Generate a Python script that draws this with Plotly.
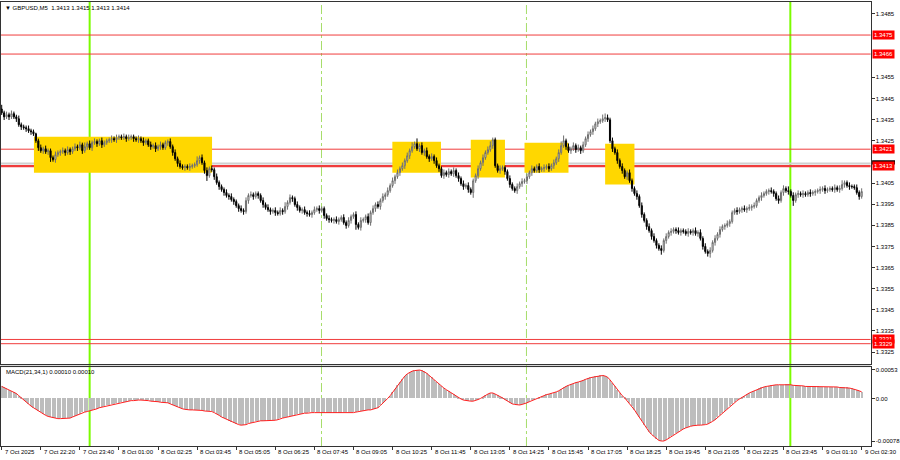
import plotly.graph_objects as go

# ---------------- data ----------------
symbol_header = "\u25bc GBPUSD,M5  1.3413 1.3415 1.3413 1.3414"
macd_header = "MACD(21,34,1) 0.00010 0.00010"

time_labels = ["7 Oct 2025", "7 Oct 22:20", "7 Oct 23:40", "8 Oct 01:00", "8 Oct 02:25",
               "8 Oct 03:45", "8 Oct 05:05", "8 Oct 06:25", "8 Oct 07:45", "8 Oct 09:05",
               "8 Oct 10:25", "8 Oct 11:45", "8 Oct 13:05", "8 Oct 14:25", "8 Oct 15:45",
               "8 Oct 17:05", "8 Oct 18:25", "8 Oct 19:45", "8 Oct 21:05", "8 Oct 22:25",
               "8 Oct 23:45", "9 Oct 01:10", "9 Oct 02:30"]
bars_per_label = 16

# price scale labels that are visible (others are covered by level tags)
price_tick_labels = ["1.3325", "1.3335", "1.3345", "1.3355", "1.3365", "1.3375", "1.3385",
                     "1.3395", "1.3405", "1.3425", "1.3435", "1.3445", "1.3455",
                     "1.3485"]
macd_tick_vals = [0.00053, 0.0, -0.00078]
macd_tick_labels = ["0.00053", "0.00", "-0.00078"]

# closes in pips above 1.3300 (M5 bars)
close_pips = [
    138.2, 136.3, 137.3, 136.3, 137.8, 136.3, 135.4, 132.6, 131.6, 131.2,
    130.7, 129.7, 129.3, 128.3, 125.0, 121.7, 120.3, 121.2, 119.8, 120.3,
    117.0, 116.1, 118.4, 119.4, 119.8, 120.3, 119.4, 120.8, 119.8, 121.2,
    122.2, 121.7, 123.1, 120.3, 122.2, 123.6, 121.7, 124.1, 124.6, 123.6,
    125.0, 123.1, 124.1, 125.0, 125.5, 126.0, 125.5, 126.4, 126.9, 126.4,
    126.9, 126.0, 126.4, 126.9, 126.0, 125.5, 126.0, 125.0, 124.1, 125.0,
    123.1, 122.2, 122.7, 121.2, 122.2, 123.1, 121.7, 124.1, 124.6, 122.2,
    119.4, 116.5, 114.2, 112.8, 112.3, 112.8, 112.3, 112.8, 113.2, 113.7,
    115.6, 117.0, 114.6, 110.9, 108.5, 111.8, 111.3, 108.0, 105.2, 103.3,
    101.9, 100.5, 99.1, 98.6, 97.2, 96.2, 94.3, 92.9, 92.0, 91.5,
    96.7, 99.1, 99.5, 98.6, 100.0, 99.1, 96.7, 94.8, 93.4, 92.4,
    91.5, 92.0, 91.0, 90.6, 92.0, 91.5, 93.9, 95.8, 98.1, 97.6,
    94.8, 93.4, 92.0, 92.4, 91.0, 90.6, 90.1, 91.0, 92.4, 92.9,
    92.0, 92.9, 89.6, 88.2, 87.7, 87.3, 87.7, 86.8, 87.7, 88.7,
    86.3, 84.9, 87.3, 89.1, 90.1, 85.4, 84.0, 87.3, 87.7, 89.1,
    86.3, 91.0, 92.9, 94.8, 93.9, 96.7, 98.6, 99.5, 101.4, 103.8,
    106.1, 108.0, 109.9, 111.8, 113.2, 115.6, 117.9, 120.3, 122.2, 123.6,
    121.2, 122.7, 119.4, 120.3, 117.5, 116.5, 117.5, 115.6, 113.2, 111.8,
    108.5, 109.9, 109.0, 110.4, 109.4, 110.9, 108.5, 107.1, 104.7, 103.3,
    103.8, 101.9, 100.5, 106.1, 108.5, 111.8, 114.6, 117.0, 119.4, 120.8,
    122.7, 125.5, 113.2, 110.9, 111.8, 112.3, 110.4, 107.1, 104.3, 102.4,
    101.4, 103.3, 104.7, 105.7, 106.1, 108.0, 109.9, 111.8, 110.9, 112.8,
    111.3, 111.8, 112.3, 112.8, 111.8, 113.2, 114.6, 116.5, 119.4, 122.7,
    125.0, 122.2, 120.3, 121.2, 122.7, 120.8, 121.7, 120.3, 123.1, 126.0,
    127.9, 129.3, 130.7, 133.0, 134.0, 134.5, 135.4, 135.9, 134.9, 125.0,
    121.2, 119.4, 115.6, 112.8, 110.9, 108.0, 109.9, 106.1, 102.4, 100.0,
    98.6, 94.3, 90.1, 87.3, 84.4, 82.5, 79.7, 77.8, 75.5, 74.0,
    73.1, 77.8, 79.7, 81.6, 82.1, 83.0, 82.5, 81.6, 82.5, 82.1,
    81.1, 82.1, 81.6, 82.5, 81.1, 81.6, 78.8, 75.0, 72.6, 71.7,
    73.1, 76.9, 78.8, 80.7, 83.0, 84.4, 84.9, 85.8, 86.8, 91.0,
    92.0, 91.5, 92.4, 92.9, 92.4, 92.9, 93.4, 93.9, 94.3, 96.7,
    98.1, 99.1, 100.0, 101.0, 101.4, 101.0, 100.0, 97.6, 96.7, 100.5,
    102.4, 101.4, 101.0, 99.1, 96.7, 99.5, 100.0, 99.5, 100.0, 99.5,
    100.5, 100.0, 100.5, 101.0, 101.4, 101.9, 102.4, 101.4, 101.9, 102.4,
    101.9, 102.8, 101.9, 102.4, 104.3, 105.2, 103.8, 103.3, 103.3, 102.8,
    100.5, 98.6, 101.0,
]
first_open_pips = 140.0

# wick lengths in half-pip units, one digit per bar
upper_wick_halfpips = (
    "4232322322 2322123232 2232232322 3232423232 2322232322 3232223232 2323232223 2323222322 "
    "4232323232 2232322232 3232222323 2232324232 2322323232 3222322322 3232232322 3232323232 "
    "3232323242 5232323232 2323232323 2322232323 4222322232 2323232322 3232323234 5232323232 "
    "3232324432 3232322322 3232232322 3232322322 2322323232 3232322322 2322323232 2322232232 "
    "3242323232 2322232322 2323422322 323"
)
lower_wick_halfpips = (
    "2323223232 3232232323 4232323232 2323232323 2322232322 2322323232 2323232232 3232232322 "
    "2323522323 2323232323 2323232322 3232232323 2323232322 3232323232 2323252323 2323232322 "
    "2323232322 2323232323 2323232323 2325232322 2322323232 2323232322 3232323232 2323232322 "
    "3232322322 3232323232 3232323232 4232323232 2323232323 4232323232 2323232322 2322323232 "
    "3232523232 2323232322 2323232322 232"
)

# MACD(21,34,1) main values, in units of 0.00001
macd_e5 = [
    22, 20, 18, 16, 14, 12, 9, 5, 1, -3, -7, -11, -14, -17,
    -20, -23, -26, -29, -31, -33, -34,
    -36, -37, -37, -37, -37, -37, -36, -36,
    -34, -32, -30, -28, -26, -25, -24, -23,
    -21, -20, -19, -17, -16, -15, -13, -12,
    -11, -10, -9, -8, -7, -6, -6,
    -5, -4, -4, -3, -3, -3, -3, -4, -4, -5, -5, -6,
    -6, -7, -7, -8, -8, -10, -12, -14, -16, -18, -19,
    -20, -21, -21, -21, -21, -21, -22, -22, -23, -23, -24,
    -24, -26, -28, -31, -34, -36, -38, -41, -43,
    -45, -47, -48, -49, -49, -48, -46, -45, -43, -42, -41,
    -41, -41, -41, -41, -41, -40, -40, -39,
    -37, -36, -35, -34, -33, -32, -31, -29,
    -28, -28, -27, -27, -26, -26,
    -26, -26, -26, -27, -27, -27, -27, -27, -27, -27, -27, -27, -26, -26, -26, -26, -26, -25,
    -24, -24, -23, -22, -21, -21, -20, -19, -17,
    -13, -9, -5, 0, 5, 11, 17, 24, 30, 36, 41, 45,
    48, 50, 51, 52, 52, 51, 49, 46, 42, 38, 34, 30, 26, 22,
    19, 16, 13, 10, 7, 4, 1, -1, -3, -4, -5, -5,
    -5, -4, -2, 0, 3, 6, 8, 10, 10, 8, 6, 3, 1, -2,
    -5, -8, -10, -11, -12, -12, -11, -10,
    -8, -6, -4, -2, 0, 2, 4, 5, 7, 8, 9, 10,
    12, 14, 17, 20, 22, 24, 26, 27, 29, 30, 31, 33,
    35, 37, 38, 39, 40, 41, 42, 42, 41, 39,
    34, 28, 22, 16, 10, 5, 1, -4, -9, -15, -21, -28,
    -35, -42, -49, -55, -61, -66, -70, -74, -77, -78,
    -78, -76, -73, -70, -67, -64, -61, -58, -56, -54, -52, -51,
    -50, -49, -49, -49, -49, -48, -47, -45, -42, -39, -35, -31,
    -27, -23, -19, -15, -11, -7, -4, -1, 2, 5, 8, 10,
    12, 14, 16, 18, 20, 21, 22, 23, 24, 25, 25, 25,
    25, 25, 26, 26, 25, 24,
    24, 23, 23, 23, 22, 22, 22, 22, 22,
    22, 21, 21, 21, 21, 21, 21, 21, 21, 20, 20,
    20, 20, 19, 18, 17, 16, 14, 12,
]

# horizontal levels (red), bid line, zones and vertical markers
red_levels = [1.3475, 1.3466, 1.3421, 1.3413, 1.3331, 1.3329]
thick_level = 1.3413
bid_price = 1.34142
# zones: (first bar, last bar, low price, high price)
zones = [(13.2, 86.1, 1.34099, 1.34269),
         (159.9, 179.8, 1.34099, 1.34245),
         (192.0, 206.0, 1.34076, 1.34255),
         (214.0, 232.0, 1.34099, 1.34241),
         (247.0, 259.0, 1.34043, 1.34236)]
green_marker_bars = [36, 322.8]
separator_bars = [130.9, 214.8]

# ---------------- build OHLC ----------------
n = len(close_pips)
idx = list(range(n))
closes = [1.33 + p / 10000 for p in close_pips]
opens = [1.33 + first_open_pips / 10000] + closes[:-1]
uw = [int(c) for c in upper_wick_halfpips.replace(" ", "")]
lw = [int(c) for c in lower_wick_halfpips.replace(" ", "")]
highs = [max(o, c) + uw[i] * 0.00005 for i, (o, c) in enumerate(zip(opens, closes))]
lows = [min(o, c) - lw[i] * 0.00005 for i, (o, c) in enumerate(zip(opens, closes))]
macd = [v / 100000 for v in macd_e5]

# ---------------- geometry (pixels -> paper) ----------------
W, H = 900, 460
px_x0, px_x1 = 1.0, 874.5
main_top, main_bot = 1.0, 364.0
macd_top, macd_bot = 367.0, 446.0
bar_px = 2.454
first_bar_px = 1.7
x_range = [(px_x0 - first_bar_px) / bar_px, (px_x1 - first_bar_px) / bar_px]
price_per_px = 0.0000472
price_at0 = 1.34911
y_range = [price_at0 - main_bot * price_per_px, price_at0 - main_top * price_per_px]
macd_zero_px = 398.3
macd_per_px = 1 / 54700
macd_range = [(macd_zero_px - macd_bot) * macd_per_px, (macd_zero_px - macd_top) * macd_per_px]

def py(p):
    return (H - p) / H

dom_x = [px_x0 / W, px_x1 / W]
FONT = "Liberation Sans"

fig = go.Figure()
fig.add_trace(go.Candlestick(
    x=idx, open=opens, high=highs, low=lows, close=closes,
    xaxis="x", yaxis="y", whiskerwidth=0,
    increasing=dict(line=dict(color="#6e6e6e", width=1), fillcolor="#ffffff"),
    decreasing=dict(line=dict(color="#000000", width=1), fillcolor="#000000"),
    hoverinfo="skip", showlegend=False))
fig.add_trace(go.Bar(x=idx, y=macd, xaxis="x2", yaxis="y2", width=0.5,
                     marker=dict(color="#bdbdbd", line=dict(width=0)),
                     hoverinfo="skip", showlegend=False))
fig.add_trace(go.Scatter(x=idx, y=macd, xaxis="x2", yaxis="y2", mode="lines",
                         line=dict(color="#ff2020", width=1),
                         hoverinfo="skip", showlegend=False))

axis_common = dict(showgrid=False, zeroline=False, showline=True, linecolor="#333333",
                   linewidth=1, mirror=True)
fig.update_layout(
    width=W, height=H, margin=dict(l=0, r=0, t=0, b=0),
    paper_bgcolor="white", plot_bgcolor="white", showlegend=False,
    boxgap=0.35, bargap=0,
    xaxis=dict(domain=dom_x, range=x_range, anchor="y", showticklabels=False, ticks="",
               rangeslider=dict(visible=False), **axis_common),
    yaxis=dict(domain=[py(main_bot), py(main_top)], range=y_range, anchor="x", side="right",
               tickvals=[float(t) for t in price_tick_labels], ticktext=price_tick_labels,
               ticks="outside", ticklen=3, tickcolor="#333333",
               tickfont=dict(family=FONT, size=6, color="#000000"), **axis_common),
    xaxis2=dict(domain=dom_x, range=x_range, anchor="y2", showticklabels=False,
                tickvals=[k * bars_per_label for k in range(len(time_labels))],
                ticks="outside", ticklen=3, tickcolor="#333333", **axis_common),
    yaxis2=dict(domain=[py(macd_bot), py(macd_top)], range=macd_range, anchor="x2", side="right",
                tickvals=macd_tick_vals, ticktext=macd_tick_labels,
                ticks="outside", ticklen=3, tickcolor="#333333",
                tickfont=dict(family=FONT, size=6, color="#000000"), **axis_common),
)

shapes = []
# pane separator
shapes.append(dict(type="rect", xref="paper", yref="paper", x0=0, x1=px_x1 / W,
                   y0=py(macd_top), y1=py(main_bot), fillcolor="#d8d8d8",
                   line=dict(width=0), layer="below"))
for (b0, b1, lo, hi) in zones:
    shapes.append(dict(type="rect", xref="x", yref="y", x0=b0, x1=b1, y0=lo, y1=hi,
                       fillcolor="#FFD700", line=dict(width=0), layer="below"))
for b in separator_bars:
    shapes.append(dict(type="line", xref="x", yref="paper", x0=b, x1=b,
                       y0=py(macd_bot), y1=py(main_top),
                       line=dict(color="#a6dd6a", width=1, dash="dashdot"), layer="below"))
for b in green_marker_bars:
    shapes.append(dict(type="line", xref="x", yref="paper", x0=b, x1=b,
                       y0=py(macd_bot), y1=py(main_top),
                       line=dict(color="#7CFC00", width=2), layer="below"))
shapes.append(dict(type="line", xref="x domain", yref="y", x0=0, x1=1, y0=bid_price, y1=bid_price,
                   line=dict(color="#d0d0d0", width=2), layer="below"))
for lv in red_levels:
    shapes.append(dict(type="line", xref="x domain", yref="y", x0=0, x1=1, y0=lv, y1=lv,
                       line=dict(color="#f03c3c", width=2.2 if lv == thick_level else 1),
                       layer="below"))
# bid price tag (mostly hidden behind the 1.3413 level tag)
shapes.append(dict(type="rect", xref="paper", yref="y", x0=876 / W, x1=899 / W,
                   y0=bid_price - 0.00004, y1=bid_price + 0.00016,
                   fillcolor="#000000", line=dict(width=0), layer="above"))
fig.update_layout(shapes=shapes)

ann = []
ann.append(dict(text=symbol_header, xref="paper", yref="paper", x=3 / W, y=py(7),
                xanchor="left", yanchor="middle", showarrow=False,
                font=dict(family=FONT, size=6, color="#000000")))
ann.append(dict(text=macd_header, xref="paper", yref="paper", x=4 / W, y=py(372),
                xanchor="left", yanchor="middle", showarrow=False,
                font=dict(family=FONT, size=6, color="#000000")))
for k, lab in enumerate(time_labels):
    ann.append(dict(text=lab, xref="x2", yref="paper", x=k * bars_per_label, y=py(452),
                    xanchor="left", yanchor="middle", showarrow=False, xshift=1,
                    font=dict(family=FONT, size=6, color="#000000")))
for lv in red_levels:
    ann.append(dict(text=f"{lv:.4f}", xref="paper", yref="y", x=876 / W, y=lv,
                    xanchor="left", yanchor="middle", showarrow=False, bgcolor="#ff0000",
                    borderpad=1, font=dict(family=FONT, size=6, color="#ffffff")))
fig.update_layout(annotations=ann)

fig.write_html("out.html", config={"displayModeBar": False},
               post_script="document.body.style.margin='0';document.body.style.overflow='hidden';")
